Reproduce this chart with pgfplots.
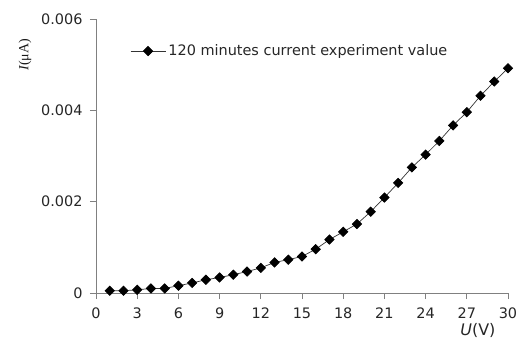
\documentclass[border=0pt]{standalone}
\usepackage{fontspec}
\setmainfont{DejaVu Sans}
\newfontfamily\seriffont{Liberation Serif}
\usepackage{pgfplots}
\pgfplotsset{compat=1.18}
\begin{document}
\begin{tikzpicture}
\useasboundingbox (-96bp,-45bp) rectangle (424bp,293bp);
\begin{axis}[
  at={(0,0)}, anchor=south west,
  scale only axis, width=412bp, height=274bp,
  xmin=0, xmax=30, ymin=0, ymax=0.006,
  axis lines=left,
  axis line style={draw=black!50, -, line width=0.8pt},
  xtick={0,3,...,30}, ytick={0,0.002,0.004,0.006},
  tick align=outside, major tick length=6bp,
  tick style={draw=black!50, line width=0.8pt},
  scaled y ticks=false,
  yticklabel style={/pgf/number format/fixed, /pgf/number format/precision=3},
  yticklabel shift=4bp,
  xticklabel shift=5bp,
  /pgf/number format/assume math mode=true,
  ticklabel style={font=\fontsize{14.5}{17}\selectfont, text=black!85},
  xlabel={\fontsize{16}{18}\selectfont\textit{U}(V)},
  xlabel style={at={(axis description cs:0.927,-0.137)}, anchor=center, inner sep=0pt, text=black!85},
  ylabel={\fontsize{14}{16}\selectfont\seriffont\textit{I}(μA)},
  ylabel style={at={(axis description cs:-0.172,0.869)}, anchor=center, rotate=0, text=black!90},
  clip=false,
  legend style={draw=none, fill=none, at={(axis description cs:0.0825,0.883)}, anchor=west, inner sep=0pt,
    font=\fontsize{14.5}{17}\selectfont, text=black!85,
    nodes={inner sep=2.5bp}},
  legend cell align=left,
  legend image code/.code={\draw[mark repeat=2, mark phase=2, #1] plot coordinates {(0bp,0bp) (17.5bp,0bp) (35bp,0bp)};},
]
\addplot[color=black!80, line width=0.7pt, mark=square*, mark size=3.3bp, mark options={rotate=45, fill=black, draw=black}]
coordinates {
(1,0.00005)(2,0.00005)(3,0.00007)(4,0.00010)(5,0.00010)(6,0.00016)(7,0.00022)(8,0.00029)(9,0.00034)(10,0.00040)
(11,0.00047)(12,0.00055)(13,0.00067)(14,0.00073)(15,0.00080)(16,0.00096)(17,0.00117)(18,0.00134)(19,0.00151)(20,0.00178)
(21,0.00209)(22,0.00241)(23,0.00275)(24,0.00303)(25,0.00333)(26,0.00367)(27,0.00396)(28,0.00432)(29,0.00463)(30,0.00492)
};
\addlegendentry{120 minutes current experiment value}
\end{axis}
\end{tikzpicture}
\end{document}
